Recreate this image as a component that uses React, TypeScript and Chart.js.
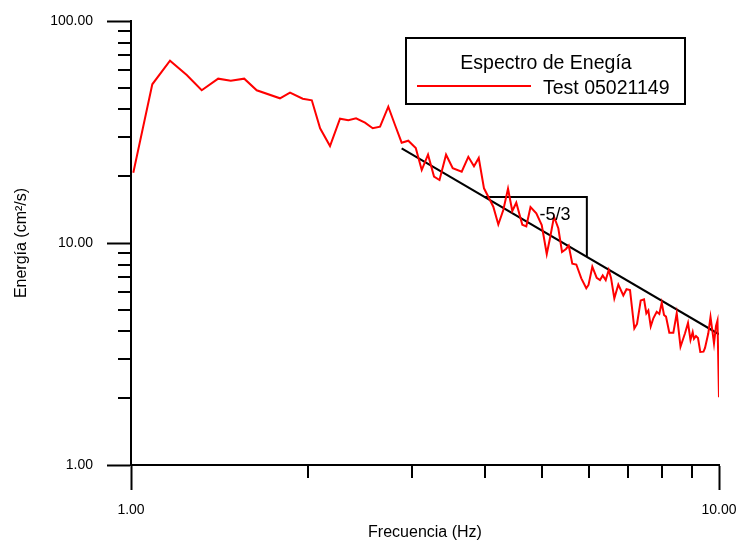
import { useEffect, useRef } from "react";
import { Chart, registerables } from "chart.js";

Chart.register(...registerables);

const FONT = '"Liberation Sans", Arial, Helvetica, sans-serif';

// Energy spectrum, frequency in Hz
const freqHz = [
  1.009, 1.087, 1.165, 1.244, 1.319, 1.407, 1.478, 1.558, 1.636, 1.792,
  1.864, 1.959, 2.03, 2.097, 2.18, 2.267, 2.342, 2.414, 2.5, 2.577,
  2.652, 2.739, 2.812, 2.886, 2.962, 3.05, 3.122, 3.2, 3.276, 3.347,
  3.434, 3.525, 3.651, 3.747, 3.831, 3.903, 3.984, 4.052, 4.132, 4.214,
  4.297, 4.377, 4.451, 4.521, 4.629, 4.702, 4.78, 4.89, 4.995, 5.094,
  5.16, 5.241, 5.33, 5.408, 5.493, 5.551, 5.63, 5.719, 5.832, 5.947,
  5.999, 6.089, 6.195, 6.275, 6.342, 6.417, 6.493, 6.552, 6.637, 6.742,
  6.875, 6.962, 7.058, 7.178, 7.254, 7.36, 7.456, 7.524, 7.583, 7.654,
  7.733, 7.836, 7.916, 7.991, 8.063, 8.126, 8.232, 8.362, 8.474, 8.601,
  8.754, 8.857, 8.944, 9.021, 9.067, 9.138, 9.21, 9.294, 9.411, 9.467,
  9.59, 9.673, 9.757, 9.806, 9.883, 9.941, 10.0,
];

// Energy in cm²/s
const energy = [
  20.73, 51.87, 66.25, 57.13, 48.73, 54.98, 53.85, 54.98, 48.73, 44.86,
  47.53, 44.67, 43.93, 32.86, 27.35, 36.3, 35.7, 36.45, 34.83, 32.86,
  33.41, 41.11, 34.0, 28.3, 28.89, 26.79, 21.32, 24.99, 19.93, 19.22,
  24.99, 21.7, 20.95, 24.45, 22.16, 24.15, 17.63, 16.17, 14.57, 12.12,
  14.08, 17.56, 13.94, 15.19, 12.09, 11.89, 14.53, 13.61, 12.05, 8.92,
  10.53, 13.14, 11.65, 9.11, 9.4, 9.74, 8.07, 8.0, 6.93, 6.25,
  6.47, 7.82, 6.96, 6.81, 7.14, 6.81, 7.56, 6.96, 5.63, 6.5,
  5.8, 6.19, 6.14, 4.12, 4.32, 5.51, 5.58, 4.82, 4.97, 4.21,
  4.58, 4.9, 4.79, 5.38, 4.74, 4.66, 3.94, 3.94, 4.82, 3.41,
  3.92, 4.36, 3.66, 3.97, 3.7, 3.81, 3.73, 3.23, 3.24, 3.37,
  3.92, 4.64, 3.92, 3.53, 4.23, 4.47, 2.02,
];

// Reference -5/3 power-law line
const fitFreq = [2.886, 10];
const fitEnergy = [26.7, 3.88];

// Slope marker (horizontal then vertical leg)
const slopeFreq = [3.99, 5.96, 5.96];
const slopeEnergy = [16.1, 16.1, 8.7];
const slopeText = "-5/3";
const slopeTextFreq = 5.26;
const slopeTextEnergy = 13.4;

// Axis tick positions (decades are labelled, the rest are short marks)
const xTickValues = [1, 2, 3, 4, 5, 6, 7, 8, 9, 10];
const yTickValues = [1, 2, 3, 4, 5, 6, 7, 8, 9, 10, 20, 30, 40, 50, 60, 70, 80, 90, 100];

const legendTitle = "Espectro de Enegía";
const seriesName = "Test 05021149";
const xTitle = "Frecuencia (Hz)";
const yTitle = "Energía (cm²/s)";

const isDecade = (v: number) => {
  if (!(v > 0)) return false;
  const l = Math.log10(v);
  return Math.abs(l - Math.round(l)) < 1e-9;
};

// Short tick marks for the non-decade ticks of both log axes
const minorTicks = {
  id: "minorTicks",
  afterDraw(chart: any) {
    const { ctx } = chart;
    const xs = chart.scales.x;
    const ys = chart.scales.y;
    ctx.save();
    ctx.strokeStyle = "#000";
    ctx.lineWidth = 2;
    ctx.beginPath();
    for (const t of ys.ticks) {
      if (isDecade(t.value)) continue;
      const py = Math.round(ys.getPixelForValue(t.value));
      ctx.moveTo(ys.right - 13, py);
      ctx.lineTo(ys.right, py);
    }
    for (const t of xs.ticks) {
      if (isDecade(t.value)) continue;
      const px = Math.round(xs.getPixelForValue(t.value));
      ctx.moveTo(px, xs.top);
      ctx.lineTo(px, xs.top + 13);
    }
    ctx.stroke();
    ctx.restore();
  },
};

// "-5/3" label beside the slope marker
const slopeLabel = {
  id: "slopeLabel",
  afterDatasetsDraw(chart: any) {
    const { ctx } = chart;
    const px = chart.scales.x.getPixelForValue(slopeTextFreq);
    const py = chart.scales.y.getPixelForValue(slopeTextEnergy);
    ctx.save();
    ctx.fillStyle = "#000";
    ctx.font = `18px ${FONT}`;
    ctx.textAlign = "center";
    ctx.textBaseline = "middle";
    ctx.fillText(slopeText, px, py);
    ctx.restore();
  },
};

// Boxed legend with a title line and the series sample
const legendBox = {
  id: "legendBox",
  afterDraw(chart: any) {
    const { ctx, chartArea } = chart;
    const ds = chart.data.datasets[0];
    const left = chartArea.left + 275;
    const top = chartArea.top + 17;
    const w = 279;
    const h = 66;
    ctx.save();
    ctx.fillStyle = "#fff";
    ctx.fillRect(left, top, w, h);
    ctx.strokeStyle = "#000";
    ctx.lineWidth = 2;
    ctx.strokeRect(left, top, w, h);
    ctx.fillStyle = "#000";
    ctx.font = `19.5px ${FONT}`;
    ctx.textBaseline = "alphabetic";
    ctx.textAlign = "center";
    ctx.fillText(legendTitle, left + 140, top + 31);
    ctx.strokeStyle = ds.borderColor;
    ctx.lineWidth = 2;
    ctx.beginPath();
    ctx.moveTo(left + 11, top + 48);
    ctx.lineTo(left + 125, top + 48);
    ctx.stroke();
    ctx.textAlign = "left";
    ctx.fillText(ds.label, left + 137, top + 56);
    ctx.restore();
  },
};

export default function App() {
  const ref = useRef<HTMLCanvasElement>(null);

  useEffect(() => {
    const canvas = ref.current;
    if (!canvas) return;
    const tickColor = (c: any) =>
      c.tick && isDecade(c.tick.value) ? "#000" : "rgba(0,0,0,0)";
    const label = (v: any) => (isDecade(Number(v)) ? Number(v).toFixed(2) : "");
    const setTicks = (values: number[]) => (s: any) => {
      s.ticks = values.map((v) => ({ value: v, major: isDecade(v) }));
    };

    const chart = new Chart(canvas, {
      type: "line",
      data: {
        datasets: [
          {
            label: seriesName,
            data: freqHz.map((f, i) => ({ x: f, y: energy[i] })),
            borderColor: "#ff0000",
            borderWidth: 2,
            pointRadius: 0,
            tension: 0,
          },
          {
            label: "-5/3",
            data: fitFreq.map((f, i) => ({ x: f, y: fitEnergy[i] })),
            borderColor: "#000000",
            borderWidth: 2,
            pointRadius: 0,
            tension: 0,
          },
          {
            label: "slope",
            data: slopeFreq.map((f, i) => ({ x: f, y: slopeEnergy[i] })),
            borderColor: "#000000",
            borderWidth: 2,
            pointRadius: 0,
            tension: 0,
          },
        ],
      },
      options: {
        responsive: false,
        animation: false,
        layout: { padding: { top: 21, right: 20, left: 0, bottom: 0 } },
        plugins: {
          legend: { display: false },
          tooltip: { enabled: false },
        },
        scales: {
          x: {
            type: "logarithmic",
            position: "bottom",
            min: 1,
            max: 10,
            afterBuildTicks: setTicks(xTickValues),
            border: { display: true, color: "#000", width: 2 },
            grid: {
              drawOnChartArea: false,
              drawTicks: true,
              tickLength: 25,
              tickWidth: 2,
              tickColor,
            },
            ticks: {
              autoSkip: false,
              maxRotation: 0,
              padding: 12,
              color: "#000",
              font: { family: FONT, size: 14 },
              callback: label,
            },
            title: {
              display: true,
              text: xTitle,
              color: "#000",
              font: { family: FONT, size: 16 },
              padding: { top: 0, bottom: 0 },
            },
            afterFit: (s: any) => {
              s.height = 77;
              s.paddingLeft = 0;
              s.paddingRight = 0;
            },
          },
          y: {
            type: "logarithmic",
            position: "left",
            min: 1,
            max: 100,
            afterBuildTicks: setTicks(yTickValues),
            border: { display: true, color: "#000", width: 2 },
            grid: {
              drawOnChartArea: false,
              drawTicks: true,
              tickLength: 24,
              tickWidth: 2,
              tickColor,
            },
            ticks: {
              autoSkip: false,
              padding: 14,
              color: "#000",
              font: { family: FONT, size: 14 },
              callback: label,
            },
            title: {
              display: true,
              text: yTitle,
              color: "#000",
              font: { family: FONT, size: 16 },
              padding: { top: 12, bottom: 0 },
            },
            afterFit: (s: any) => {
              s.width = 131;
              s.paddingTop = 0;
              s.paddingBottom = 0;
            },
          },
        },
      } as any,
      plugins: [minorTicks, slopeLabel, legendBox],
    });

    return () => chart.destroy();
  }, []);

  return (
    <div style={{ position: "absolute", left: 0, top: 0, width: 739, height: 542, background: "#fff" }}>
      <canvas ref={ref} width={739} height={542} style={{ display: "block" }} />
    </div>
  );
}
